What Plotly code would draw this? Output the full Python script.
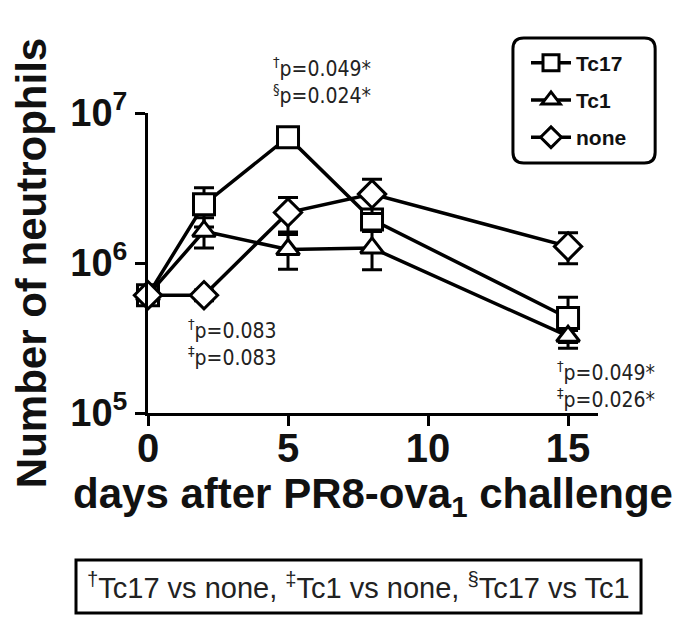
import plotly.graph_objects as go

# days after challenge
DAYS = [0, 2, 5, 8, 15]

# mean neutrophil counts per group
TC17 = [6.1e5, 2.46e6, 6.9e6, 1.95e6, 4.3e5]
TC1 = [6.1e5, 1.63e6, 1.23e6, 1.26e6, 3.25e5]
NONE = [6.1e5, 6.1e5, 2.17e6, 2.88e6, 1.29e6]

# error bar sizes (linear)
TC17_ERR = [0.4e5, 0.72e6, 0.6e6, 0.3e6, 1.6e5]
TC1_ERR = [0.4e5, 0.37e6, 0.32e6, 0.36e6, 0.3e5]
NONE_ERR = [0.4e5, 0.5e5, 0.56e6, 0.74e6, 0.3e6]

Y_TICKS = [1e5, 1e6, 1e7]
Y_TICKTEXT = ['10<sup>5</sup>', '10<sup>6</sup>', '10<sup>7</sup>']
X_TICKS = [0, 5, 10, 15]

FONT = 'Liberation Sans, Arial, sans-serif'
NARROW = 'Liberation Sans Narrow, Arial Narrow, DejaVu Sans Condensed, Liberation Sans, sans-serif'

fig = go.Figure()

series = [
    ('Tc17', TC17, TC17_ERR, 'square', 21),
    ('Tc1', TC1, TC1_ERR, 'triangle-up', 20),
    ('none', NONE, NONE_ERR, 'diamond', 21),
]
for name, vals, err, sym, size in series:
    fig.add_trace(go.Scatter(
        x=DAYS, y=vals, name=name, mode='lines+markers', legendgroup=name,
        line=dict(color='black', width=3.5),
        marker=dict(symbol=sym, size=size, color='white',
                    line=dict(color='black', width=3)),
        error_y=dict(type='data', array=err, color='black',
                     thickness=3, width=10),
        cliponaxis=False,
    ))

# p-value notes (x in days, y in log10 units)
notes = [
    (4.4, 7.0, 33, '<sup>†</sup>p=0.049*<br><sup>§</sup>p=0.024*'),
    (1.36, 5.47, 0, '<sup>†</sup>p=0.083<br><sup>‡</sup>p=0.083'),
    (14.54, 5.19, 0, '<sup>†</sup>p=0.049*<br><sup>‡</sup>p=0.026*'),
]
for nx, ny, shift, txt in notes:
    fig.add_annotation(x=nx, y=ny, xref='x', yref='y', text=txt, yshift=shift,
                       showarrow=False, xanchor='left', yanchor='middle',
                       align='left',
                       font=dict(family=NARROW, size=21, color='#222'))

# footnote box
fig.add_shape(type='rect', xref='paper', yref='paper',
              x0=-0.16, x1=1.0956, y0=-0.667, y1=-0.49,
              line=dict(color='black', width=3))
fig.add_annotation(x=0.467, y=-0.578, xref='paper', yref='paper',
                   text='<sup>†</sup>Tc17 vs none, <sup>‡</sup>Tc1 vs none, <sup>§</sup>Tc17 vs Tc1',
                   showarrow=False, xanchor='center', yanchor='middle',
                   font=dict(family=FONT, size=29, color='#222'))

# rounded legend frame
x0, x1, y0, y1 = 0.811, 1.127, 0.833, 1.25
rx, ry = 0.024, 0.036
path = (f'M {x0+rx},{y0} L {x1-rx},{y0} Q {x1},{y0} {x1},{y0+ry} '
        f'L {x1},{y1-ry} Q {x1},{y1} {x1-rx},{y1} L {x0+rx},{y1} '
        f'Q {x0},{y1} {x0},{y1-ry} L {x0},{y0+ry} Q {x0},{y0} {x0+rx},{y0} Z')
fig.add_shape(type='path', path=path, xref='paper', yref='paper',
              line=dict(color='black', width=3))

fig.update_layout(
    width=685, height=623,
    margin=dict(l=140, r=95, t=105, b=218),
    paper_bgcolor='white', plot_bgcolor='white',
    font=dict(family=FONT, color='#111'),
    showlegend=True,
    legend=dict(x=0.84, y=1.235, xanchor='left', yanchor='top',
                bgcolor='rgba(0,0,0,0)', borderwidth=0,
                font=dict(family=FONT, size=21, color='#111', weight='bold'),
                itemsizing='trace', itemwidth=40, tracegroupgap=7),
    xaxis=dict(
        range=[0, 16.07], tickvals=X_TICKS, showgrid=False, zeroline=False,
        automargin=False,
        showline=True, linecolor='black', linewidth=3,
        ticks='outside', ticklen=10, tickwidth=3, tickcolor='black',
        ticklabelstandoff=-12,
        tickfont=dict(family=FONT, size=40, color='#111', weight='bold'),
        title=dict(text='days after PR8-ova<sub>1</sub> challenge', standoff=8,
                   font=dict(family=FONT, size=42, color='#111', weight='bold')),
    ),
    yaxis=dict(
        type='log', range=[5, 7], tickvals=Y_TICKS, ticktext=Y_TICKTEXT,
        showgrid=False, zeroline=False, automargin=False,
        showline=True, linecolor='black', linewidth=3,
        ticks='outside', ticklen=10, tickwidth=3, tickcolor='black',
        tickfont=dict(family=FONT, size=38, color='#111', weight='bold'),
        title=dict(text='Number of neutrophils', standoff=14,
                   font=dict(family=FONT, size=42, color='#111', weight='bold')),
    ),
)

fig.write_html('out.html')
